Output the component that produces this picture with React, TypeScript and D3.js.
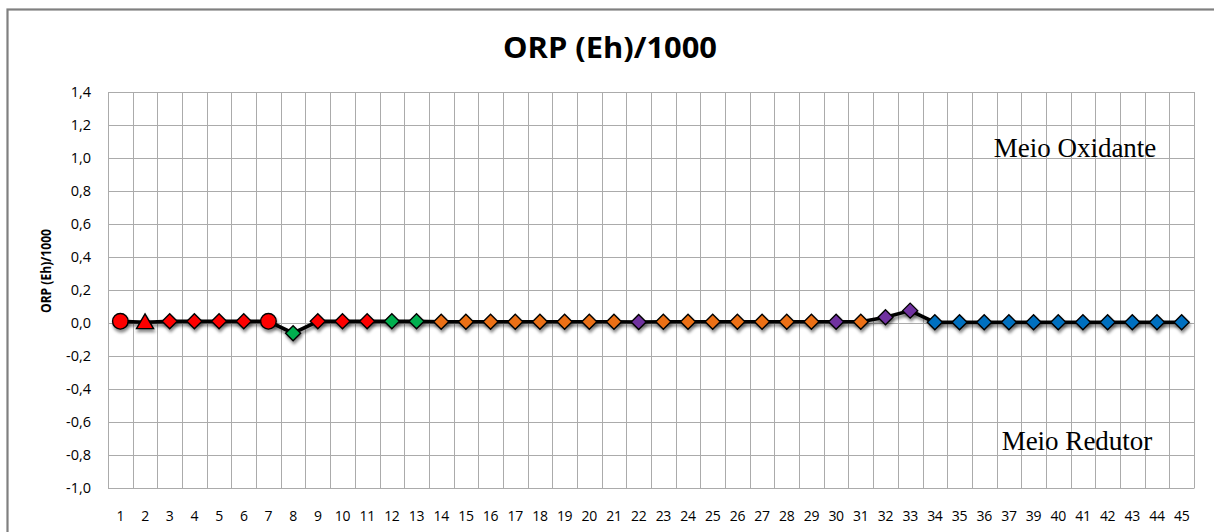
import * as React from "react";
import * as d3 from "d3";

// sample numbers along the x axis (38 is missing in the original)
const categories = [
  "1", "2", "3", "4", "5", "6", "7", "8", "9", "10", "11", "12", "13", "14", "15",
  "16", "17", "18", "19", "20", "21", "22", "23", "24", "25", "26", "27", "28", "29",
  "30", "31", "32", "33", "34", "35", "36", "37", "39", "40", "41", "42", "43", "44", "45",
];

// ORP (Eh)/1000
const orpValues = [
  0.01, 0.005, 0.01, 0.01, 0.01, 0.01, 0.01, -0.062, 0.01, 0.01, 0.01, 0.01, 0.01,
  0.008, 0.008, 0.008, 0.008, 0.008, 0.008, 0.008, 0.008, 0.006,
  0.008, 0.008, 0.008, 0.008, 0.008, 0.008, 0.008, 0.008, 0.008,
  0.035, 0.075,
  0.004, 0.004, 0.004, 0.004, 0.004, 0.004, 0.004, 0.004, 0.004, 0.004, 0.004, 0.004,
];

// marker group of each sample
const markerGroup = [
  "redCircle", "redTriangle", "red", "red", "red", "red", "redCircle", "green", "red", "red", "red", "green", "green",
  "orange", "orange", "orange", "orange", "orange", "orange", "orange", "orange", "purple",
  "orange", "orange", "orange", "orange", "orange", "orange", "orange", "purple", "orange",
  "purple", "purple",
  "blue", "blue", "blue", "blue", "blue", "blue", "blue", "blue", "blue", "blue", "blue", "blue",
];

const yTicks = [-1.0, -0.8, -0.6, -0.4, -0.2, 0, 0.2, 0.4, 0.6, 0.8, 1.0, 1.2, 1.4];

const groupStyle = {
  red: { fill: "#ff0000", shape: "diamond" },
  redCircle: { fill: "#ff0000", shape: "circle" },
  redTriangle: { fill: "#ff0000", shape: "triangle" },
  green: { fill: "#00b050", shape: "diamond" },
  orange: { fill: "#ec7012", shape: "diamond" },
  purple: { fill: "#7030a0", shape: "diamond" },
  blue: { fill: "#0070c0", shape: "diamond" },
};

function drawChart(svgRef) {
  const W = 1214, H = 532;
  const plot = { left: 108, right: 1194, top: 92, bottom: 488 };
  const font = "'Open Sans', 'Noto Sans', sans-serif";
  const serif = "'Liberation Serif', 'DejaVu Serif', serif";

  const svg = d3.select(svgRef.current).attr("width", W).attr("height", H);
  svg.selectAll("*").remove();

  const defs = svg.append("defs");
  const f = defs.append("filter").attr("id", "shadow").attr("x", "-50%").attr("y", "-50%").attr("width", "200%").attr("height", "200%");
  f.append("feDropShadow").attr("dx", 1).attr("dy", 3).attr("stdDeviation", 1.6)
    .attr("flood-color", "#000").attr("flood-opacity", 0.45);

  svg.append("rect").attr("width", W).attr("height", H).attr("fill", "#fff");
  svg.append("rect")
    .attr("x", 7.5).attr("y", 9.5).attr("width", W + 20).attr("height", H + 20)
    .attr("fill", "none").attr("stroke", "#808080").attr("stroke-width", 2.2);

  const x = d3.scaleBand().domain(categories).range([plot.left, plot.right]);
  const y = d3.scaleLinear().domain([-1.0, 1.4]).range([plot.bottom, plot.top]);
  const fmt = (v) => d3.format(".1f")(v).replace(".", ",").replace("−", "-");

  // gridlines
  const grid = svg.append("g").attr("stroke", "#ababab").attr("stroke-width", 1);
  grid.selectAll(".h").data(yTicks).enter().append("line")
    .attr("x1", plot.left).attr("x2", plot.right)
    .attr("y1", d => Math.round(y(d)) + 0.5).attr("y2", d => Math.round(y(d)) + 0.5);
  const bounds = categories.map(c => x(c)).concat([plot.right]);
  grid.selectAll(".v").data(bounds).enter().append("line")
    .attr("x1", d => Math.round(d) + 0.5).attr("x2", d => Math.round(d) + 0.5)
    .attr("y1", plot.top).attr("y2", plot.bottom);

  // y axis
  const yAxis = svg.append("g")
    .attr("transform", `translate(${plot.left},0)`)
    .call(d3.axisLeft(y).tickValues(yTicks).tickFormat(fmt).tickSize(0).tickPadding(17));
  yAxis.select(".domain").attr("stroke", "#ababab");
  yAxis.selectAll("text").attr("font-family", font).attr("font-size", 14.5).attr("fill", "#000");

  // x axis
  const xAxis = svg.append("g")
    .attr("transform", `translate(0,${plot.bottom})`)
    .call(d3.axisBottom(x).tickSize(0).tickPadding(23));
  xAxis.select(".domain").attr("stroke", "#ababab");
  xAxis.selectAll("text").attr("font-family", font).attr("font-size", 14).attr("fill", "#000")
    .attr("letter-spacing", -0.3);

  // line
  const pts = categories.map((c, i) => ({ c, v: orpValues[i], g: markerGroup[i] }));
  const line = d3.line().x(d => x(d.c) + x.bandwidth() / 2).y(d => y(d.v));
  svg.append("path").datum(pts)
    .attr("d", line).attr("fill", "none").attr("stroke", "#000").attr("stroke-width", 3.6)
    .attr("filter", "url(#shadow)");

  // markers
  const shapes = {
    circle: d3.symbol(d3.symbolCircle, 190)(),
    triangle: d3.symbol(d3.symbolTriangle, 125)(),
    diamond: "M0,-7.5L7.5,0L0,7.5L-7.5,0Z",
  };
  svg.append("g").selectAll("path").data(pts).enter().append("path")
    .attr("d", d => shapes[groupStyle[d.g].shape])
    .attr("transform", d => `translate(${x(d.c) + x.bandwidth() / 2},${y(d.v) + (groupStyle[d.g].shape === "triangle" ? 1.5 : 0)})`)
    .attr("fill", d => groupStyle[d.g].fill)
    .attr("stroke", "#000").attr("stroke-width", 1.4)
    .attr("filter", "url(#shadow)");

  // titles
  svg.append("text").text("ORP (Eh)/1000")
    .attr("x", 610).attr("y", 58).attr("text-anchor", "middle")
    .attr("font-family", font).attr("font-weight", "bold").attr("font-size", 28)
    .attr("textLength", 214).attr("lengthAdjust", "spacingAndGlyphs");
  svg.append("text").text("ORP (Eh)/1000")
    .attr("transform", "translate(51,271) rotate(-90)").attr("text-anchor", "middle")
    .attr("font-family", font).attr("font-weight", "bold").attr("font-size", 14.5)
    .attr("textLength", 84).attr("lengthAdjust", "spacingAndGlyphs");

  // annotations
  svg.append("text").text("Meio Oxidante")
    .attr("x", 1075).attr("y", 157).attr("text-anchor", "middle")
    .attr("font-family", serif).attr("font-size", 27);
  svg.append("text").text("Meio Redutor")
    .attr("x", 1077).attr("y", 450).attr("text-anchor", "middle")
    .attr("font-family", serif).attr("font-size", 27);
}

const App = () => {
  const svgRef = React.useRef(null);

  React.useEffect(() => {
    drawChart(svgRef);
  }, [svgRef]);

  return (
    <svg ref={svgRef} style={{ position: "absolute", left: 0, top: 0, display: "block" }} />
  );
};

export default App;
